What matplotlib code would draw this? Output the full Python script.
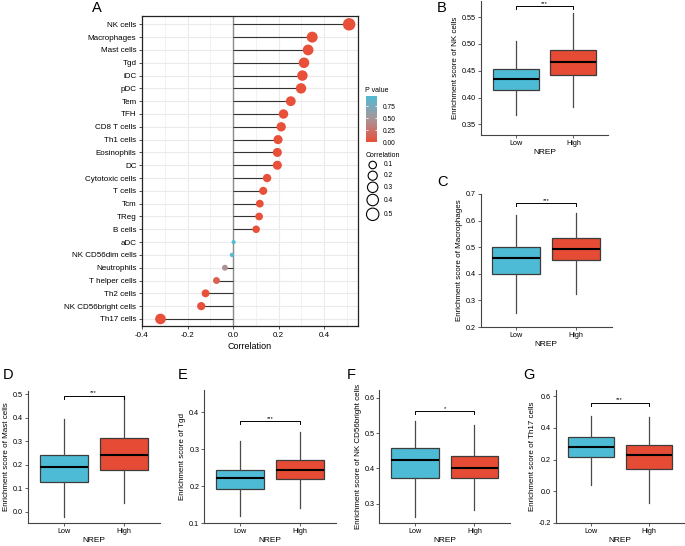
import numpy as np
import matplotlib.pyplot as plt
from matplotlib.colors import LinearSegmentedColormap, Normalize

plt.rcParams['font.family'] = ['Liberation Sans', 'DejaVu Sans']
plt.rcParams['axes.unicode_minus'] = False

# panel A data
cells = ['NK cells', 'Macrophages', 'Mast cells', 'Tgd', 'iDC', 'pDC', 'Tem', 'TFH',
         'CD8 T cells', 'Th1 cells', 'Eosinophils', 'DC', 'Cytotoxic cells', 'T cells',
         'Tcm', 'TReg', 'B cells', 'aDC', 'NK CD56dim cells', 'Neutrophils',
         'T helper cells', 'Th2 cells', 'NK CD56bright cells', 'Th17 cells']
corr = [0.509, 0.347, 0.329, 0.311, 0.304, 0.298, 0.253, 0.221, 0.211, 0.197, 0.194,
        0.194, 0.149, 0.132, 0.117, 0.114, 0.101, 0.002, -0.005, -0.036, -0.073,
        -0.121, -0.140, -0.319]
pval = [0.0, 0.0, 0.0, 0.0, 0.0, 0.0, 0.0, 0.0, 0.0, 0.0, 0.0, 0.0, 0.0, 0.0, 0.0,
        0.0, 0.0, 0.97, 0.90, 0.45, 0.12, 0.0, 0.0, 0.0]
size_breaks = [0.1, 0.2, 0.3, 0.4, 0.5]
pval_breaks = [0.0, 0.25, 0.5, 0.75]

# boxplot panels: [lower whisker, Q1, median, Q3, upper whisker]
nk_low = [0.368, 0.414, 0.435, 0.454, 0.506]
nk_high = [0.383, 0.442, 0.467, 0.489, 0.557]
mac_low = [0.254, 0.400, 0.458, 0.500, 0.622]
mac_high = [0.324, 0.451, 0.492, 0.535, 0.630]
mast_low = [-0.021, 0.126, 0.193, 0.243, 0.393]
mast_high = [0.040, 0.179, 0.242, 0.313, 0.494]
tgd_low = [0.118, 0.191, 0.221, 0.244, 0.322]
tgd_high = [0.140, 0.219, 0.243, 0.271, 0.346]
nkb_low = [0.263, 0.373, 0.424, 0.458, 0.534]
nkb_high = [0.282, 0.373, 0.401, 0.436, 0.523]
th17_low = [0.036, 0.215, 0.278, 0.341, 0.478]
th17_high = [-0.075, 0.140, 0.226, 0.292, 0.470]
groups = ['Low', 'High']

RED = '#E64B35'
BLUE = '#4DBBD5'
W, H = 685, 546
fig = plt.figure(figsize=(W / 100, H / 100), dpi=100)

ov = fig.add_axes([0, 0, 1, 1])
ov.set_xlim(0, W)
ov.set_ylim(H, 0)
ov.axis('off')
ov.set_facecolor('none')


def px_axes(l, t, r, b):
    return fig.add_axes([l / W, 1 - b / H, (r - l) / W, (b - t) / H])


def dot_size(r):
    d = 3.5 + 9 * np.sqrt(np.abs(np.asarray(r)) / 0.509)
    return (d * 0.72) ** 2


cmap = LinearSegmentedColormap.from_list('pv', ['#E8503A', '#A9969A', '#4CBCD6'])
norm = Normalize(0, 0.97)

# ---- A: lollipop
ax = px_axes(142, 16, 358, 326)
y = np.arange(len(cells))
ax.set_xlim(-0.4, 0.548)
ax.set_ylim(len(cells) - 0.45, -0.65)
ax.set_xticks([-0.4, -0.2, 0.0, 0.2, 0.4])
ax.set_xticklabels(['-0.4', '-0.2', '0.0', '0.2', '0.4'])
ax.set_xticks([-0.3, -0.1, 0.1, 0.3, 0.5], minor=True)
ax.set_yticks(y)
ax.set_yticklabels(cells)
ax.grid(which='major', color='#EBEBEB', lw=0.8)
ax.grid(which='minor', axis='x', color='#EBEBEB', lw=0.45)
ax.set_axisbelow(True)
ax.tick_params(which='major', length=2.5, width=0.6, pad=1.5, labelsize=5.8, color='#333333')
ax.tick_params(which='minor', length=0)
ax.axvline(0, color='#8C8C8C', lw=1.0, zorder=1)
ax.hlines(y, 0, corr, color='#333333', lw=0.8, zorder=2)
ax.scatter(corr, y, s=dot_size(corr), c=pval, cmap=cmap, norm=norm, linewidths=0, zorder=3)
for sp in ax.spines.values():
    sp.set_color('#222222')
    sp.set_linewidth(0.9)
ax.set_xlabel('Correlation', fontsize=6.5, labelpad=2.5)

# colorbar legend
cax = px_axes(365.7, 95.7, 376.7, 142.3)
grad = np.linspace(0, 0.97, 200).reshape(-1, 1)
cax.imshow(grad, cmap=cmap, norm=norm, origin='lower', aspect='auto', extent=[0, 1, 0, 0.97])
cax.hlines(pval_breaks, 0, 0.2, color='white', lw=0.6)
cax.hlines(pval_breaks, 0.8, 1, color='white', lw=0.6)
cax.set_xticks([])
cax.yaxis.tick_right()
cax.set_yticks(pval_breaks)
cax.set_yticklabels(['%.2f' % v for v in pval_breaks])
cax.tick_params(length=0, pad=4, labelsize=4.8)
for sp in cax.spines.values():
    sp.set_visible(False)
ov.text(365.5, 91, 'P value', fontsize=5, va='center', ha='left')

# size legend
ov.text(365.5, 155.7, 'Correlation', fontsize=5, va='center', ha='left')
leg_y = [165, 175.7, 187.3, 200, 214.3]
ov.scatter([372.7] * len(size_breaks), leg_y, s=dot_size(size_breaks),
           facecolors='none', edgecolors='black', linewidths=0.8)
for v, yy in zip(size_breaks, leg_y):
    ov.text(384, yy, str(v), fontsize=4.8, va='center', ha='left')


# ---- box panels
def box_panel(box, low, high, ylim, yticks, fmt, ylabel, sig, sig_y):
    ax = px_axes(*box)
    stats = []
    for q in (low, high):
        stats.append(dict(whislo=q[0], q1=q[1], med=q[2], q3=q[3], whishi=q[4]))
    parts = ax.bxp(stats, positions=[1, 2], widths=0.8, showfliers=False, showcaps=False,
                   patch_artist=True,
                   boxprops=dict(edgecolor='#3C3C3C', lw=0.9),
                   medianprops=dict(color='black', lw=1.5),
                   whiskerprops=dict(color='#4A4A4A', lw=0.9))
    for patch, col in zip(parts['boxes'], [BLUE, RED]):
        patch.set_facecolor(col)
    ax.set_xlim(0.4, 2.6)
    ax.set_ylim(ylim)
    ax.set_yticks(yticks)
    ax.set_yticklabels([fmt % v for v in yticks])
    ax.set_xticks([1, 2])
    ax.set_xticklabels(groups)
    ax.spines['top'].set_visible(False)
    ax.spines['right'].set_visible(False)
    for s in ('left', 'bottom'):
        ax.spines[s].set_color('#444444')
        ax.spines[s].set_linewidth(0.8)
    ax.tick_params(length=2, width=0.6, pad=1.5, labelsize=5.2, color='#444444')
    tip = 0.022 * (ylim[1] - ylim[0])
    ax.plot([1, 1, 2, 2], [sig_y - tip, sig_y, sig_y, sig_y - tip], color='black', lw=0.7)
    ax.text(1.5, sig_y + 0.003 * (ylim[1] - ylim[0]), sig, ha='center', va='bottom', fontsize=4.2)
    ax.set_xlabel('NREP', fontsize=6, labelpad=1.5)
    ax.set_ylabel(ylabel, fontsize=5.75, labelpad=2)
    return ax


box_panel((481, 1, 608, 134.7), nk_low, nk_high, (0.331, 0.58),
          [0.35, 0.40, 0.45, 0.50, 0.55], '%.2f', 'Enrichment score of NK cells', '***', 0.570)
box_panel((480.5, 194, 611.8, 327), mac_low, mac_high, (0.2, 0.7),
          [0.2, 0.3, 0.4, 0.5, 0.6, 0.7], '%.1f', 'Enrichment score of Macrophages', '***', 0.666)
box_panel((27.5, 391, 159.5, 522.7), mast_low, mast_high, (-0.0455, 0.514),
          [0.0, 0.1, 0.2, 0.3, 0.4, 0.5], '%.1f', 'Enrichment score of Mast cells', '***', 0.494)
box_panel((204.2, 390, 336.2, 523), tgd_low, tgd_high, (0.1, 0.46),
          [0.1, 0.2, 0.3, 0.4], '%.1f', 'Enrichment score of Tgd', '***', 0.375)
box_panel((379.4, 390, 510, 522.7), nkb_low, nkb_high, (0.246, 0.622),
          [0.3, 0.4, 0.5, 0.6], '%.1f', 'Enrichment score of NK CD56bright cells', '*', 0.562)
box_panel((556, 390, 683.5, 522.7), th17_low, th17_high, (-0.2, 0.64),
          [-0.2, 0.0, 0.2, 0.4, 0.6], '%.1f', 'Enrichment score of Th17 cells', '***', 0.56)

# panel letters
for lab, xx, yy in [('A', 97, 8.3), ('B', 441.7, 8.3), ('C', 442.5, 182.5), ('D', 8.3, 375),
                    ('E', 182.5, 375), ('F', 351, 375), ('G', 529, 375)]:
    ov.text(xx, yy, lab, fontsize=10.5, ha='center', va='center')

fig.savefig('out.png', dpi=100)
